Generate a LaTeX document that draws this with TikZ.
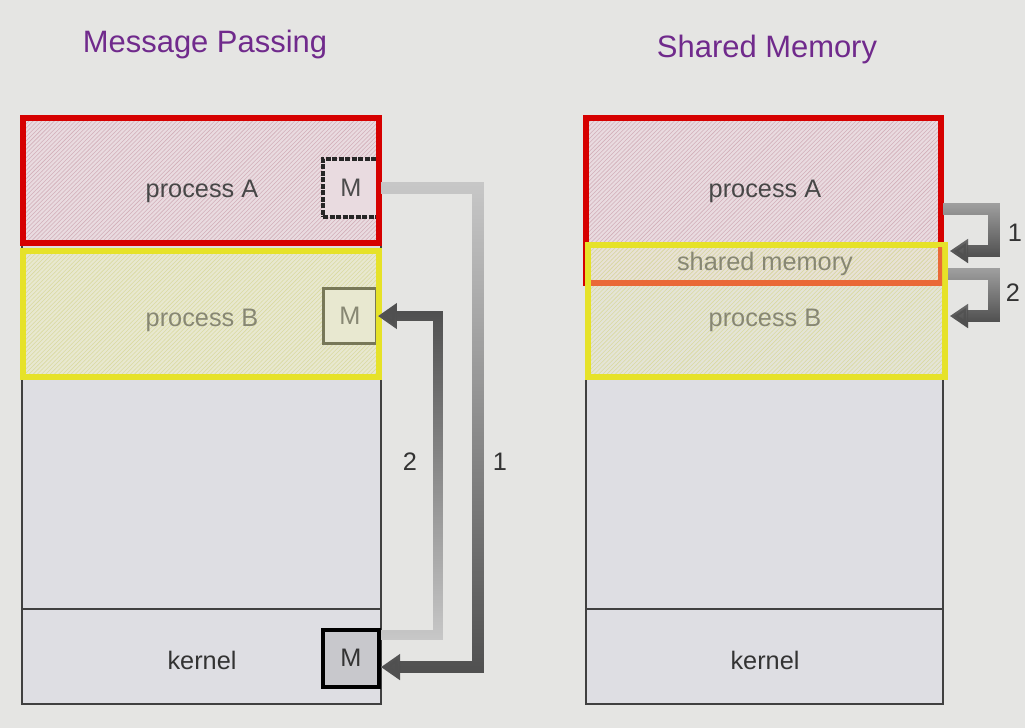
\documentclass[tikz,border=0pt]{standalone}
\usepackage{fontspec}
\setmainfont{Liberation Sans}
\usetikzlibrary{calc,patterns,fadings,arrows.meta}

% one pixel of the slide
\newdimen\pxu
\pxu=0.025cm

\definecolor{bggray}{RGB}{229,229,227}
\definecolor{memgray}{RGB}{222,222,227}
\definecolor{pinkfill}{RGB}{233,219,224}
\definecolor{pinkhatch}{RGB}{210,175,185}
\definecolor{yelfill}{RGB}{232,232,208}
\definecolor{yelhatch}{RGB}{218,218,160}
\definecolor{procred}{RGB}{214,0,0}
\definecolor{procyel}{RGB}{230,226,40}
\definecolor{overlapred}{RGB}{234,105,55}
\definecolor{titlepurple}{RGB}{112,42,140}
\definecolor{arrowlight}{RGB}{200,200,200}
\definecolor{arrowdark}{RGB}{80,80,80}
\definecolor{fadedtext}{RGB}{135,135,115}

\tikzfading[name=fade down, top color=transparent!100, bottom color=transparent!0]
\tikzfading[name=fade up, top color=transparent!0, bottom color=transparent!100]

\begin{document}
\begin{tikzpicture}[x=1\pxu, y=-1\pxu,
  title/.style={font=\fontsize{22}{26}\selectfont, text=titlepurple},
  boxtext/.style={font=\fontsize{18}{22}\selectfont, text=black!72},
  mbox/.style={draw, inner sep=0pt, font=\fontsize{18}{22}\selectfont},
  memline/.style={draw=black!75, line width=2\pxu},
  redbox/.style={draw=procred, line width=6\pxu},
  yelbox/.style={draw=procyel, line width=6\pxu},
  msgarrow/.style={line width=12\pxu, -{Triangle[length=13.5pt,width=17.7pt]}},
  shmarrow/.style={line width=12\pxu, -{Triangle[length=12.8pt,width=16.3pt]}}]

  % Slide background
  \fill[bggray] (0,0) rectangle (1025,728);
  \useasboundingbox (0,0) rectangle (1025,728);

  % Titles
  \node[title] (mptitle) at (205,45) {Message Passing};
  \node[title] (smtitle) at (767,50) {Shared Memory};

  % ---------- Message passing ----------
  \fill[memgray] (22,117) rectangle (381,704);
  \fill[pinkfill] (23,118) rectangle (379,243);
  \fill[pattern=north east lines, pattern color=pinkhatch] (23,118) rectangle (379,243);
  \fill[yelfill] (23,251) rectangle (379,377);
  \fill[pattern=north east lines, pattern color=yelhatch] (23,251) rectangle (379,377);
  \draw[memline] (22,117) rectangle (381,704);
  \draw[memline] (22,378) -- (381,378);
  \draw[memline] (22,609) -- (381,609);

  % Message buffers
  \node[mbox, draw=black!85, dash pattern=on 5\pxu off 1.5\pxu, line width=4\pxu,
        fill=pinkfill, text=black!70,
        minimum width=56\pxu, minimum height=58\pxu] (mA) at (351,188) {M};
  \node[mbox, draw=black!45!yelhatch, line width=3\pxu, fill=yelfill, text=fadedtext,
        minimum width=53\pxu, minimum height=55\pxu] (mB) at (350,316) {M};
  \node[mbox, line width=4\pxu, fill=black!10!memgray, text=black!80,
        minimum width=56\pxu, minimum height=57\pxu] (mK) at (351,658) {M};

  \draw[redbox] (23,118) rectangle (379,243);
  \draw[yelbox] (23,251) rectangle (379,377);

  \node[boxtext] (pA) at (202,191) {process A};
  \node[boxtext, text=fadedtext] (pB) at (202,320) {process B};
  \node[boxtext, text=black!80] (kern) at (202,660) {kernel};

  % Arrow 1: A -> kernel (light base, dark fades in downwards)
  \draw[msgarrow, arrowlight] (mA.east) -- ++(97,0) |- ($(mK.east)+(0,9)$);
  \draw[msgarrow, arrowdark, path fading=fade down] (mA.east) -- ++(97,0) |- ($(mK.east)+(0,9)$);
  % Arrow 2: kernel -> B
  \draw[msgarrow, line width=10\pxu, arrowlight] ($(mK.east)+(0,-23)$) -- ++(57,0) |- (mB.east);
  \draw[msgarrow, line width=10\pxu, arrowdark, path fading=fade up] ($(mK.east)+(0,-23)$) -- ++(57,0) |- (mB.east);
  \node[boxtext, text=black!80] (n2) at (410,462) {2};
  \node[boxtext, text=black!80] (n1) at (500,462) {1};

  % ---------- Shared memory ----------
  \fill[memgray] (586,117) rectangle (943,704);
  \fill[pinkfill] (586,118) rectangle (941,283);
  \fill[pattern=north east lines, pattern color=pinkhatch] (586,118) rectangle (941,283);
  \fill[yelfill, fill opacity=0.6] (588,245) rectangle (945,377);
  \fill[pattern=north east lines, pattern color=yelhatch] (588,245) rectangle (945,377);
  \draw[memline] (586,117) rectangle (943,704);
  \draw[memline] (586,378) -- (943,378);
  \draw[memline] (586,609) -- (943,609);

  \draw[redbox] (586,118) rectangle (941,283);
  \draw[yelbox] (588,245) rectangle (945,377);
  % red edge seen through the yellow box
  \begin{scope}
    \clip (591,248) rectangle (942,374);
    \draw[redbox, draw=overlapred] (586,118) rectangle (941,283);
  \end{scope}

  \node[boxtext] (spA) at (765,191) {process A};
  \node[boxtext, text=fadedtext] (shm) at (765,264) {shared memory};
  \node[boxtext, text=fadedtext] (spB) at (765,320) {process B};
  \node[boxtext, text=black!80] (skern) at (765,660) {kernel};

  % write, then read
  \coordinate (w1) at (943,209);
  \coordinate (w2) at (950,251);
  \coordinate (r1) at (948,274);
  \coordinate (r2) at (950,316);
  \draw[shmarrow, arrowlight!80!black] (w1) -- ++(51,0) |- (w2);
  \draw[shmarrow, arrowdark, path fading=fade down] (w1) -- ++(51,0) |- (w2);
  \draw[shmarrow, arrowlight!80!black] (r1) -- ++(46,0) |- (r2);
  \draw[shmarrow, arrowdark, path fading=fade down] (r1) -- ++(46,0) |- (r2);
  \node[boxtext, text=black!80] (s1) at (1015,233) {1};
  \node[boxtext, text=black!80] (s2) at (1013,293) {2};
\end{tikzpicture}
\end{document}
